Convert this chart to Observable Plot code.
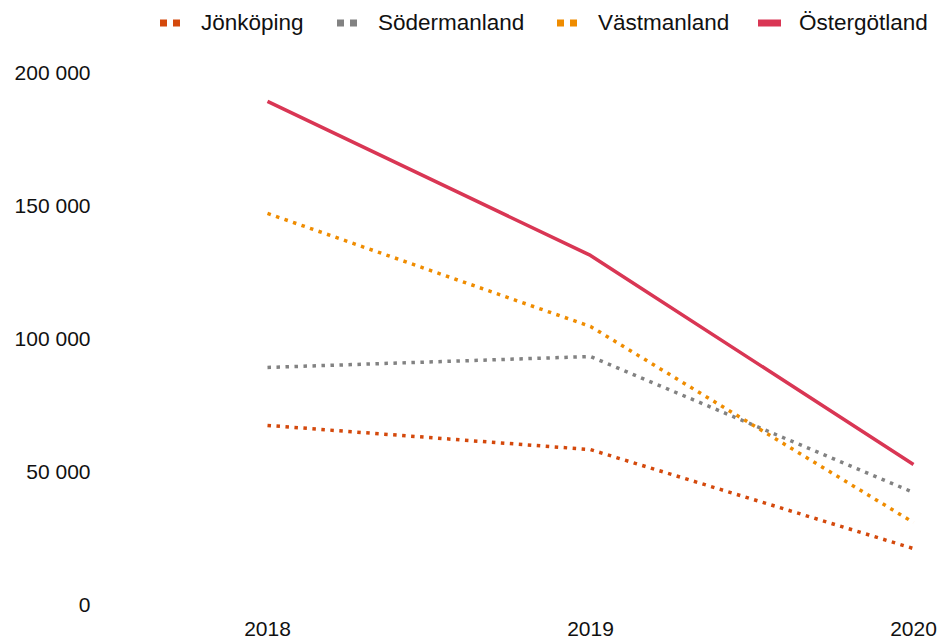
<!DOCTYPE html>
<html>
<head>
<meta charset="utf-8">
<script src="https://cdn.jsdelivr.net/npm/d3@7"></script>
<script src="https://cdn.jsdelivr.net/npm/@observablehq/plot@0.6"></script>
<style>
  html, body { margin: 0; padding: 0; background: #fff; }
  body { width: 941px; height: 642px; overflow: hidden; font-family: "Liberation Sans", Arial, sans-serif; }
  #legend { height: 45px; position: relative; font-size: 22.5px; color: #111; }
  .item { position: absolute; top: 10px; display: flex; align-items: center; height: 26px; }
  .item svg { margin-right: 16px; }
</style>
</head>
<body>
<div id="legend"></div>
<div id="chart"></div>
<script>
const years = ["2018", "2019", "2020"];
const seriesNames = ["Jönköping", "Södermanland", "Västmanland", "Östergötland"];
const jonkoping = [67700, 58600, 21400];
const sodermanland = [89500, 93600, 42500];
const vastmanland = [147400, 104900, 31200];
const ostergotland = [189500, 131600, 53000];
const yTicks = [0, 50000, 100000, 150000, 200000];

const colors = ["#d4490c", "#828282", "#ef8c00", "#d93654"];
const dashed = [true, true, true, false];
const legendX = [160, 337, 557, 758];
const valuesBySeries = [jonkoping, sodermanland, vastmanland, ostergotland];

const data = [];
seriesNames.forEach((name, i) => {
  years.forEach((yr, j) => data.push({series: name, year: yr, value: valuesBySeries[i][j]}));
});

const fmt = d3.formatLocale({decimal: ",", thousands: "\u00a0", grouping: [3], currency: ["", " kr"]}).format(",d");

// Legend
const legend = document.getElementById("legend");
seriesNames.forEach((name, i) => {
  const item = document.createElement("div");
  item.className = "item";
  item.style.left = legendX[i] + "px";
  const sw = dashed[i]
    ? `<svg width="25" height="8"><rect x="0" y="0.5" width="7" height="7" fill="${colors[i]}"/><rect x="13" y="0.5" width="7" height="7" fill="${colors[i]}"/></svg>`
    : `<svg width="25" height="8"><rect x="0" y="0.5" width="23" height="7" fill="${colors[i]}"/></svg>`;
  item.innerHTML = sw + `<span>${name}</span>`;
  legend.appendChild(item);
});

const chart = Plot.plot({
  width: 941,
  height: 597,
  marginTop: 28,
  marginBottom: 37,
  marginLeft: 266,
  marginRight: 28,
  style: {fontSize: "21px", fontFamily: "'Liberation Sans', Arial, sans-serif", color: "#111", background: "#fff"},
  x: {type: "point", domain: years, padding: 0, label: null},
  y: {domain: [0, 200000], label: null},
  color: {domain: seriesNames, range: colors},
  marks: [
    Plot.axisX({tickSize: 0, tickPadding: 16, label: null}),
    Plot.axisY({ticks: yTicks, tickSize: 0, tickPadding: 176, tickFormat: fmt, label: null}),
    ...seriesNames.map((name, i) => Plot.line(data.filter(d => d.series === name), {
      x: "year", y: "value",
      stroke: colors[i],
      strokeWidth: dashed[i] ? 3.5 : 3.5,
      strokeDasharray: dashed[i] ? "3.5,5.5" : null,
      strokeLinecap: "butt",
      strokeLinejoin: "round"
    }))
  ]
});
document.getElementById("chart").appendChild(chart);
</script>
</body>
</html>
